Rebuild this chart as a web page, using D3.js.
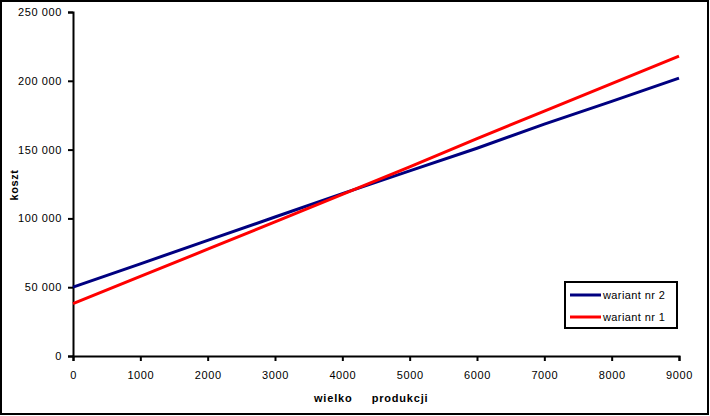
<!DOCTYPE html>
<html><head><meta charset="utf-8">
<script src="https://cdn.jsdelivr.net/npm/d3@7"></script>
<style>
body{margin:0;background:#fff;}
svg{display:block;}
text{font-family:"Liberation Sans",Arial,sans-serif;fill:#000;}
</style></head>
<body><svg id="c" width="710" height="416"></svg>
<script>
const xValues=[0,1000,2000,3000,4000,5000,6000,7000,8000,9000];
const wariant2=[50000,67000,84000,101000,118000,134500,151000,168500,185000,202000];
const wariant1=[38000,57800,77600,97400,117500,137500,158000,178000,198000,218000];
const xTicks=[0,1000,2000,3000,4000,5000,6000,7000,8000,9000];
const yTicks=[0,50000,100000,150000,200000,250000];
const seriesNames=["wariant nr 2","wariant nr 1"];
const colors=["#000080","#ff0000"];

const svg=d3.select("#c");
svg.append("rect").attr("x",1).attr("y",1).attr("width",707).attr("height",413)
  .attr("fill","#fff").attr("stroke","#000").attr("stroke-width",2);

const x=d3.scaleLinear().domain([0,9000]).range([73,679]);
const y=d3.scaleLinear().domain([0,250000]).range([356,12]);
const fmt=d=>d3.format(",")(d).replace(/,/g," ");

const gy=svg.append("g").attr("transform","translate(73,0)")
  .call(d3.axisLeft(y).tickValues(yTicks).tickFormat(fmt).tickSize(5).tickPadding(6));
const gx=svg.append("g").attr("transform","translate(0,356)")
  .call(d3.axisBottom(x).tickValues(xTicks).tickFormat(d=>d).tickSize(5).tickPadding(10));
[gx,gy].forEach(g=>{
  g.select(".domain").attr("stroke","#000").attr("stroke-width",2);
  g.selectAll(".tick line").attr("stroke","#000").attr("stroke-width",2);
  g.selectAll(".tick text").attr("font-size",11).attr("letter-spacing","0.6px")
    .attr("font-family","Liberation Sans, Arial, sans-serif").attr("fill","#000");
});

const line=d3.line().x((d,i)=>x(xValues[i])).y(d=>y(d));
[wariant2,wariant1].forEach((s,k)=>{
  svg.append("path").datum(s).attr("d",line).attr("fill","none")
    .attr("stroke",colors[k]).attr("stroke-width",3);
});

svg.append("text").attr("transform","translate(18,185) rotate(-90)")
  .attr("text-anchor","middle").attr("font-size",11).attr("font-weight","bold")
  .attr("letter-spacing","0.6px").text("koszt");
svg.append("text").attr("x",314).attr("y",402).attr("font-size",11).attr("font-weight","bold")
  .attr("letter-spacing","0.8px").attr("xml:space","preserve").style("white-space","pre")
  .text("wielko     produkcji");

const lg=svg.append("g");
lg.append("rect").attr("x",565).attr("y",282).attr("width",112).attr("height",46)
  .attr("fill","#fff").attr("stroke","#000").attr("stroke-width",2);
seriesNames.forEach((n,i)=>{
  const yy=295+i*22;
  lg.append("line").attr("x1",570).attr("x2",601).attr("y1",yy).attr("y2",yy)
    .attr("stroke",colors[i]).attr("stroke-width",3);
  lg.append("text").attr("x",603).attr("y",yy+4).attr("font-size",11)
    .attr("letter-spacing","0.4px").text(n);
});
</script></body></html>
